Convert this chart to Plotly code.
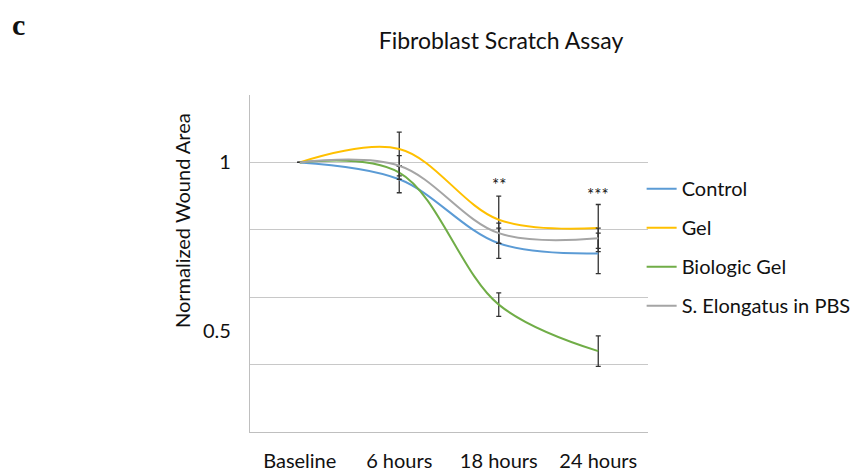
import plotly.graph_objects as go

categories = ["Baseline", "6 hours", "18 hours", "24 hours"]
series_names = ["Control", "Gel", "Biologic Gel", "S. Elongatus in PBS"]
control = [1.0, 0.95, 0.76, 0.73]
control_err = [0, 0.04, 0.045, 0.06]
gel = [1.0, 1.04, 0.83, 0.805]
gel_err = [0, 0.05, 0.07, 0.07]
biologic = [1.0, 0.97, 0.578, 0.44]
biologic_err = [0, 0.02, 0.035, 0.045]
elongatus = [1.0, 0.99, 0.79, 0.775]
elongatus_err = [0, 0.03, 0.03, 0.03]
colors = ["#5B9BD5", "#FFC000", "#70AD47", "#A5A5A5"]
sig_labels = ["", "", "**", "***"]
sig_y = [None, None, 0.935, 0.905]

FONT = "Lato"
fig = go.Figure()
for name, vals, errs, col in zip(series_names, [control, gel, biologic, elongatus],
                                 [control_err, gel_err, biologic_err, elongatus_err], colors):
    fig.add_trace(go.Scatter(
        x=categories, y=vals, name=name, mode="lines",
        line=dict(color=col, width=2, shape="spline", smoothing=1),
        error_y=dict(type="data", array=errs, visible=True, color="#333333", thickness=1.3, width=2.5),
        legendgroup=name,
    ))

for c, lab, yv in zip(categories, sig_labels, sig_y):
    if lab:
        fig.add_annotation(x=c, y=yv, text=lab, showarrow=False, xref="x", yref="y",
                           font=dict(family=FONT, size=17, color="#111"))

fig.add_annotation(text="Normalized Wound Area", xref="paper", yref="paper", x=-0.206, y=0.626,
                   textangle=-90, showarrow=False, font=dict(family=FONT, size=20, color="#111"))
fig.add_annotation(text="<b>c</b>", xref="paper", yref="paper", x=-0.603, y=(475 - 43 - 25) / 337,
                   xanchor="left", yanchor="middle", showarrow=False,
                   font=dict(family="Liberation Serif", size=30, color="#111"))

fig.update_layout(
    width=854, height=475,
    margin=dict(l=250, r=206, t=95, b=43, autoexpand=False),
    paper_bgcolor="white", plot_bgcolor="white",
    font=dict(family=FONT, size=20, color="#111"),
    title=dict(text="Fibroblast Scratch Assay", x=(501/854), xanchor="center", y=1 - 41/475, yanchor="middle",
               font=dict(family=FONT, size=23, color="#111")),
    legend=dict(x=0.984, y=0.78, xanchor="left", yanchor="top", tracegroupgap=10,
                font=dict(family=FONT, size=20, color="#111"), itemwidth=30,
                bgcolor="rgba(0,0,0,0)"),
    showlegend=True,
)
fig.update_xaxes(range=[-0.5, 3.5], showline=True, linecolor="#BFBFBF", linewidth=1.2,
                 showgrid=False, ticks="", ticklabelstandoff=11, zeroline=False, automargin=False,
                 tickfont=dict(family=FONT, size=20, color="#111"))
fig.update_yaxes(range=[0.2, 1.2], showline=True, linecolor="#BFBFBF", linewidth=1.2,
                 tickvals=[0.5, 1.0], ticktext=["0.5", "1"], showgrid=False, ticks="",
                 ticklabelstandoff=14, zeroline=False, automargin=False,
                 tickfont=dict(family=FONT, size=20, color="#111"),
                 minor=dict(tickvals=[0.4, 0.6, 0.8, 1.0, 1.2], showgrid=True, gridcolor="#C8C8C8", gridwidth=1.2))

fig.write_html("out.html")
